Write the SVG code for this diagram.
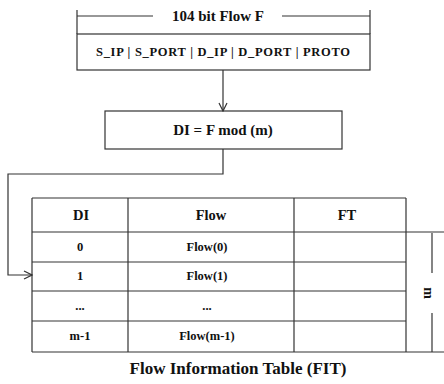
<svg xmlns="http://www.w3.org/2000/svg" width="444" height="384" viewBox="0 0 444 384">
<style>
text{font-family:"Liberation Serif","Times New Roman",serif;font-weight:bold;fill:#111;text-anchor:middle;dominant-baseline:central}
.ln{stroke:#333;stroke-width:1.2;fill:none}
.gr{stroke:#777;stroke-width:1.6;fill:none}
.bx{stroke:#333;stroke-width:1.2;fill:#fff}
.c{font-size:12.5px}
</style>
<defs>
<marker id="a" markerWidth="10" markerHeight="10" refX="9" refY="5" orient="auto" markerUnits="userSpaceOnUse">
<path d="M1,1 L9,5 L1,9" fill="none" stroke="#333" stroke-width="1.2"/>
</marker>
</defs>
<g id="bracket">
<line class="ln" x1="77" y1="10" x2="77" y2="34"/>
<line class="ln" x1="370" y1="10" x2="370" y2="34"/>
<line class="ln" x1="77" y1="16" x2="153" y2="16"/>
<line class="ln" x1="282" y1="16" x2="370" y2="16"/>
<text x="218" y="16" font-size="15">104 bit Flow F</text>
</g>
<g id="flow">
<rect class="bx" x="77" y="34" width="293" height="36"/>
<text x="223" y="52" font-size="12.5" textLength="254" lengthAdjust="spacing">S_IP | S_PORT | D_IP | D_PORT  | PROTO</text>
</g>
<g id="di">
<rect class="bx" x="105" y="111" width="237" height="38"/>
<text x="223" y="130" font-size="15">DI = F mod  (m)</text>
</g>
<g id="connectors">
<line class="ln" x1="223" y1="70" x2="223" y2="111" marker-end="url(#a)"/>
<polyline class="ln" points="223,149 223,174 8,174 8,275 32,275" marker-end="url(#a)"/>
</g>
<g id="table">
<line class="ln" x1="32" y1="198" x2="406" y2="198"/>
<line class="ln" x1="32" y1="232" x2="444" y2="232"/>
<line class="gr" x1="32" y1="262" x2="406" y2="262"/>
<line class="ln" x1="32" y1="291" x2="406" y2="291"/>
<line class="gr" x1="32" y1="321" x2="406" y2="321"/>
<line class="ln" x1="32" y1="352" x2="444" y2="352"/>
<line class="ln" x1="32" y1="198" x2="32" y2="352"/>
<line class="ln" x1="128" y1="198" x2="128" y2="352"/>
<line class="ln" x1="294" y1="198" x2="294" y2="352"/>
<line class="ln" x1="406" y1="198" x2="406" y2="352"/>
<text x="81" y="215" font-size="14.5">DI</text>
<text x="211" y="215" font-size="14.5">Flow</text>
<text x="347" y="215" font-size="14.5">FT</text>
<text class="c" x="80" y="247">0</text>
<text class="c" x="207" y="247">Flow(0)</text>
<text class="c" x="80" y="276">1</text>
<text class="c" x="207" y="276">Flow(1)</text>
<text class="c" x="80" y="306">...</text>
<text class="c" x="207" y="306">...</text>
<text class="c" x="80" y="336">m-1</text>
<text class="c" x="207" y="336">Flow(m-1)</text>
</g>
<g id="m-bracket">
<line class="ln" x1="432" y1="233" x2="432" y2="273"/>
<line class="ln" x1="432" y1="313" x2="432" y2="352"/>
<text x="428" y="293" font-size="14" transform="rotate(90 428 293)">m</text>
</g>
<text x="238" y="368" font-size="17">Flow Information Table (FIT)</text>
</svg>
